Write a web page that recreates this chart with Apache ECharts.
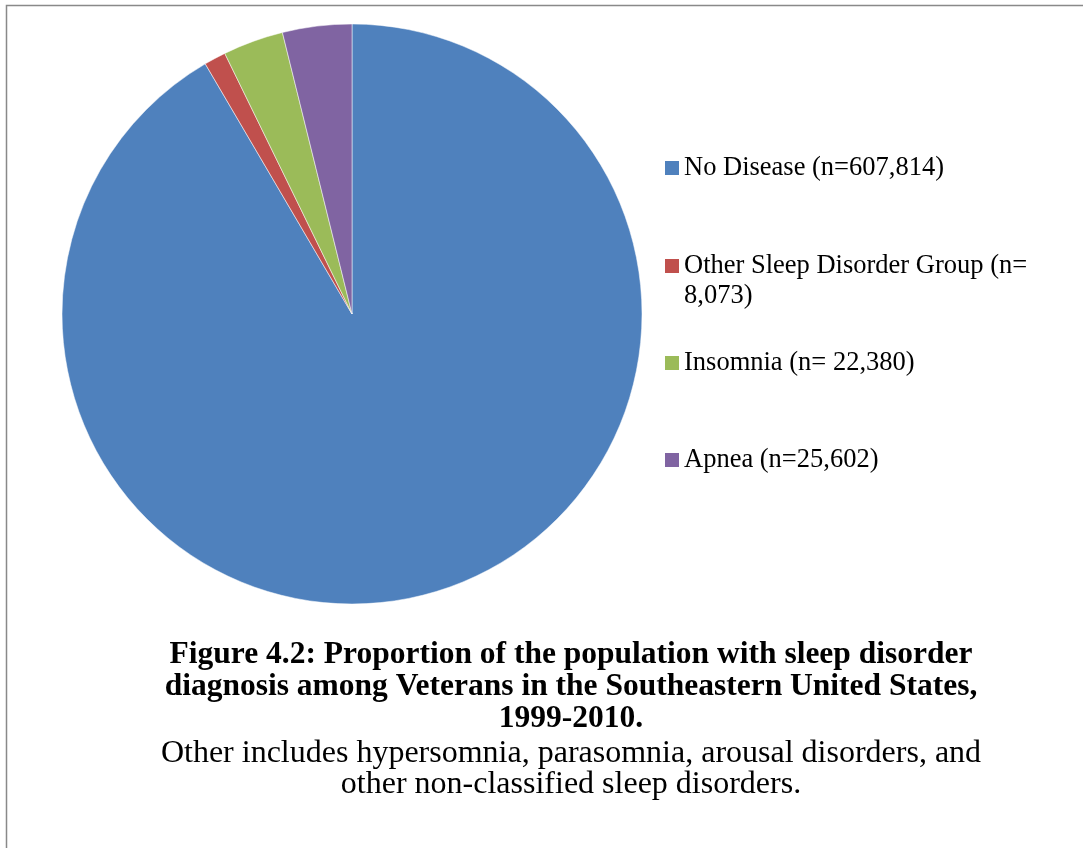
<!DOCTYPE html>
<html>
<head>
<meta charset="utf-8">
<title>Sleep disorder diagnosis among Veterans</title>
<script src="https://cdn.jsdelivr.net/npm/echarts@6/dist/echarts.min.js"></script>
<style>
  html, body { margin: 0; padding: 0; background: #ffffff; }
  #chart { width: 1083px; height: 848px; }
</style>
</head>
<body>
<div id="chart"></div>
<script>
// Diagnosis groups and patient counts
const categories = [
  'No Disease (n=607,814)',
  'Other Sleep Disorder Group (n= 8,073)',
  'Insomnia (n= 22,380)',
  'Apnea (n=25,602)'
];
const counts = [607814, 8073, 22380, 25602];
const colors = ['#4F81BD', '#C0504D', '#9BBB59', '#8064A2'];

const titleText = 'Figure 4.2: Proportion of the population with sleep disorder\n' +
  'diagnosis among Veterans in the Southeastern United States,\n1999-2010.';
const noteText = 'Other includes hypersomnia, parasomnia, arousal disorders, and\n' +
  'other non-classified sleep disorders.';

const serif = 'Liberation Serif, Times New Roman, serif';

// Vertical placement of each legend entry
const legendTops = [153, 221, 348, 445];

// Long entries break after "(n=" onto a second line; the leading blank
// line keeps the swatch level with the first line of text.
function legendFormatter(name) {
  if (name.length > 30) {
    return '\n' + name.replace('(n= ', '(n=\n');
  }
  return name;
}

const chart = echarts.init(document.getElementById('chart'), null, { renderer: 'canvas' });

chart.setOption({
  animation: false,
  backgroundColor: '#ffffff',
  color: colors,
  title: {
    text: titleText,
    subtext: noteText,
    left: 571,
    top: 639,
    textAlign: 'center',
    padding: 0,
    itemGap: 3,
    textStyle: {
      fontFamily: serif,
      fontSize: 31.5,
      fontWeight: 'bold',
      lineHeight: 32,
      color: '#000000'
    },
    subtextStyle: {
      fontFamily: serif,
      fontSize: 32,
      lineHeight: 31,
      color: '#000000'
    }
  },
  legend: categories.map((name, i) => ({
    data: [name],
    left: 665,
    top: legendTops[i],
    orient: 'vertical',
    padding: 0,
    itemWidth: 14,
    itemHeight: 14,
    icon: 'rect',
    selectedMode: false,
    itemStyle: { borderWidth: 0 },
    formatter: legendFormatter,
    textStyle: {
      fontFamily: serif,
      fontSize: 26.5,
      lineHeight: 30,
      color: '#000000'
    }
  })),
  graphic: [{
    type: 'rect',
    silent: true,
    shape: { x: 6.5, y: 5.5, width: 1200, height: 1000 },
    style: { fill: 'none', stroke: '#898989', lineWidth: 1.5 }
  }],
  series: [{
    type: 'pie',
    center: [352, 314],
    radius: 290,
    startAngle: 90,
    clockwise: true,
    silent: true,
    label: { show: false },
    labelLine: { show: false },
    itemStyle: { borderColor: '#ffffff', borderWidth: 0.5 },
    data: categories.map((name, i) => ({ name: name, value: counts[i] }))
  }]
});
</script>
</body>
</html>
